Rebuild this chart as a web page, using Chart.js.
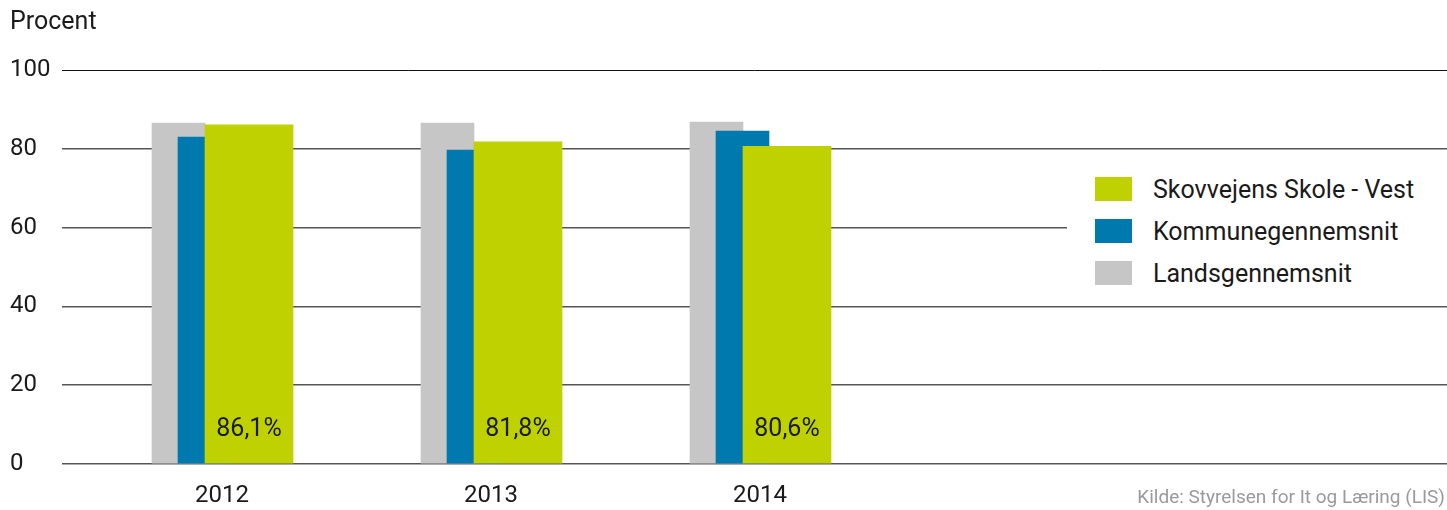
<!DOCTYPE html>
<html>
<head>
<meta charset="utf-8">
<script src="https://cdn.jsdelivr.net/npm/chart.js@4/dist/chart.umd.min.js"></script>
<style>
  html, body { margin: 0; padding: 0; background: #fff; }
  #wrap { position: relative; width: 1447px; height: 510px; font-family: Roboto, "Noto Sans", sans-serif; }
  #procent { position: absolute; left: 10px; top: 6px; font-size: 25px; color: #1a1a1a; }
  #kilde { position: absolute; right: 2px; top: 485px; font-size: 19px; color: #9a9a9a; }
  #legend { position: absolute; left: 1067px; top: 163px; width: 380px; height: 130px; background: #fff; }
  .row { position: absolute; left: 28px; height: 24px; display: flex; align-items: center; font-size: 25px; color: #1a1a1a; }
  .box { width: 37px; height: 24px; margin-right: 21px; flex: none; }
</style>
</head>
<body>
<div id="wrap">
  <canvas id="chart" width="1447" height="510"></canvas>
  <div id="procent">Procent</div>
  <div id="legend"></div>
  <div id="kilde">Kilde: Styrelsen for It og Læring (LIS)</div>
</div>
<script>
const aar = ["2012", "2013", "2014"];
const skole = [86.1, 81.8, 80.6];
const kommune = [83.0, 79.7, 84.5];
const lands = [86.5, 86.5, 86.8];
const serier = ["Skovvejens Skole - Vest", "Kommunegennemsnit", "Landsgennemsnit"];
const farver = ["#bfd200", "#007aae", "#c6c6c6"];

// pixels per category step and offsets of each bar inside a group
const trin = 269;
const forskyd = [27, -17.5, -43.5];

function punkter(vaerdier, k) {
  return vaerdier.map((v, i) => ({ x: i + forskyd[k] / trin, y: v }));
}

const vaerdiTekst = {
  id: "vaerdiTekst",
  afterDatasetsDraw(chart) {
    const ctx = chart.ctx;
    const meta = chart.getDatasetMeta(0);
    ctx.save();
    ctx.font = "25px Roboto";
    ctx.fillStyle = "#1a1a1a";
    ctx.textAlign = "center";
    ctx.textBaseline = "middle";
    meta.data.forEach((bar, i) => {
      ctx.fillText(skole[i].toFixed(1).replace(".", ",") + "%", bar.x, chart.chartArea.bottom - 34);
    });
    ctx.restore();
  }
};

const venstre = 62;
const bredde = 1447 - venstre;
const xMin = -(222 - venstre) / trin;
const xMax = xMin + bredde / trin;

const data = [skole, kommune, lands];

new Chart(document.getElementById("chart"), {
  type: "bar",
  data: {
    datasets: data.map((d, k) => ({
      label: serier[k],
      data: punkter(d, k),
      backgroundColor: farver[k],
      barThickness: k === 0 ? 88 : 53,
      grouped: false
    }))
  },
  options: {
    responsive: false,
    animation: false,
    layout: { padding: { left: 10, right: 0, top: 70, bottom: 0 } },
    plugins: { legend: { display: false }, tooltip: { enabled: false } },
    scales: {
      x: {
        type: "linear",
        offset: false,
        min: xMin,
        max: xMax,
        grid: { display: false },
        border: { display: false },
        afterBuildTicks(scale) {
          scale.ticks = aar.map((a, i) => ({ value: i }));
        },
        afterFit(scale) { scale.height = 46; },
        ticks: {
          padding: 10,
          font: { family: "Roboto", size: 24 },
          color: "#1a1a1a",
          callback: (v) => aar[v]
        }
      },
      y: {
        min: 0,
        max: 100,
        border: { display: false },
        afterFit(scale) { scale.width = 52; },
        grid: {
          drawTicks: false,
          color: (c) => c.tick.value === 100 ? "#111" : "#555",
          lineWidth: (c) => c.tick.value === 100 ? 1 : 1.5
        },
        ticks: {
          stepSize: 20,
          crossAlign: "far",
          padding: 0,
          font: { family: "Roboto", size: 24 },
          color: "#1a1a1a"
        }
      }
    }
  },
  plugins: [vaerdiTekst]
});

const legend = document.getElementById("legend");
serier.forEach((s, k) => {
  const row = document.createElement("div");
  row.className = "row";
  row.style.top = (14 + k * 42) + "px";
  row.innerHTML = `<span class="box" style="background:${farver[k]}"></span><span>${s}</span>`;
  legend.appendChild(row);
});
</script>
</body>
</html>
